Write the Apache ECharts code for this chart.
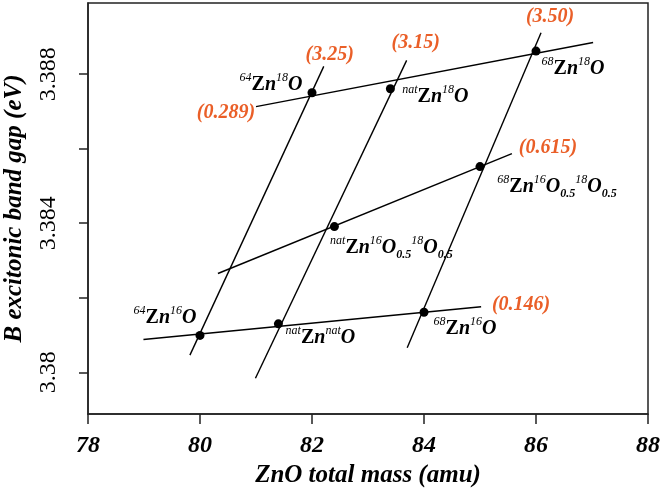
<!DOCTYPE html>
<html>
<head>
<meta charset="utf-8">
<script src="https://cdn.jsdelivr.net/npm/echarts@6/dist/echarts.min.js"></script>
<style>
  html, body { margin: 0; padding: 0; background: #fff; }
  #chart { width: 663px; height: 491px; }
</style>
</head>
<body>
<div id="chart"></div>
<script>
// measured points: ZnO total mass (amu) vs B exciton gap (eV)
var pointMass = [80, 81.4, 84, 82.4, 85, 82, 83.4, 86];
var pointGap = [3.38099, 3.3813, 3.38161, 3.38391, 3.38552, 3.3875, 3.38761, 3.38862];
var pointLabels = [
    '{sup|64}{z|Z}{n|n}{sup|16}{n|O}',
    '{sup|nat}{z|Z}{n|n}{sup|nat}{n|O}',
    '{sup|68}{z|Z}{n|n}{sup|16}{n|O}',
    '{sup|nat}{z|Z}{n|n}{sup|16}{n|O}{sub|0.5}{sup|18}{n|O}{sub|0.5}',
    '{sup|68}{z|Z}{n|n}{sup|16}{n|O}{sub|0.5}{sup|18}{n|O}{sub|0.5}',
    '{sup|64}{z|Z}{n|n}{sup|18}{n|O}',
    '{sup|nat}{z|Z}{n|n}{sup|18}{n|O}',
    '{sup|68}{z|Z}{n|n}{sup|18}{n|O}'
];

// fitted lines (start / end), slope in meV/amu
var lineX0 = [78.99, 80.32, 81.0, 79.82, 80.99, 83.70];
var lineY0 = [3.38088, 3.38265, 3.38713, 3.38046, 3.37984, 3.38066];
var lineX1 = [85.02, 85.57, 87.02, 82.21, 83.69, 86.09];
var lineY1 = [3.38176, 3.38587, 3.38885, 3.38821, 3.38837, 3.38911];
var slopeText = ['(0.146)', '(0.615)', '(0.289)', '(3.25)', '(3.15)', '(3.50)'];
var slopeAtStart = [false, false, true, false, false, false];

// y ticks
var yTicks = [3.380, 3.382, 3.384, 3.386, 3.388];
var yTickLabels = {'3.38': '3.38', '3.384': '3.384', '3.388': '3.388'};

// label placement (pixels)
var pointLabelOffset = [[-35, -18], [42, 14], [41, 17], [57, 21], [77, 20], [-41, -8], [45, 8], [37, 18]];
var slopeLabelOffset = [[40, -2], [36, -6], [-30, 6], [6, -12], [9, -18], [9, -16]];

var serif = 'Liberation Serif';
var orange = '#ea5f28';

var richStyle = {
    z: {fontFamily: serif, fontWeight: 'bold', fontSize: 20, lineHeight: 26, color: '#000'},
    n: {fontFamily: serif, fontWeight: 'bold', fontStyle: 'italic', fontSize: 20, lineHeight: 26, color: '#000'},
    sup: {fontFamily: serif, fontStyle: 'italic', fontSize: 12, lineHeight: 12, verticalAlign: 'top', color: '#000'},
    sub: {fontFamily: serif, fontStyle: 'italic', fontWeight: 'bold', fontSize: 12, lineHeight: 12, verticalAlign: 'bottom', color: '#000'}
};

var chart = echarts.init(document.getElementById('chart'));

var series = [];
for (var i = 0; i < lineX0.length; i++) {
    series.push({
        type: 'line',
        data: [[lineX0[i], lineY0[i]], [lineX1[i], lineY1[i]]],
        showSymbol: false,
        silent: true,
        lineStyle: {color: '#000', width: 1.4},
        z: 2
    });
}

var slopePts = [];
for (var i = 0; i < slopeText.length; i++) {
    slopePts.push({
        value: slopeAtStart[i] ? [lineX0[i], lineY0[i]] : [lineX1[i], lineY1[i]],
        label: {formatter: slopeText[i], offset: slopeLabelOffset[i]}
    });
}
series.push({
    type: 'scatter',
    data: slopePts,
    symbolSize: 0,
    silent: true,
    itemStyle: {color: orange, opacity: 1},
    label: {
        show: true, position: 'inside', opacity: 1,
        fontFamily: serif, fontWeight: 'bold', fontStyle: 'italic',
        fontSize: 20, color: orange,
        textBorderWidth: 0, textBorderColor: 'transparent'
    },
    z: 4
});

var pts = [];
for (var i = 0; i < pointMass.length; i++) {
    pts.push({
        value: [pointMass[i], pointGap[i]],
        label: {formatter: pointLabels[i], offset: pointLabelOffset[i]}
    });
}
series.push({
    type: 'scatter',
    data: pts,
    symbol: 'circle',
    symbolSize: 9,
    itemStyle: {color: '#000', opacity: 1},
    label: {
        show: true, position: 'inside', rich: richStyle, opacity: 1,
        color: '#000', textBorderWidth: 0, textBorderColor: 'transparent'
    },
    z: 5
});

var option = {
    animation: false,
    backgroundColor: '#fff',
    grid: {
        left: 88, right: 15, top: 3, bottom: 77,
        outerBoundsMode: 'none',
        show: true, borderColor: '#222', borderWidth: 1.5
    },
    xAxis: {
        type: 'value',
        min: 78, max: 88, interval: 2,
        name: 'ZnO total mass (amu)',
        nameLocation: 'middle',
        nameGap: 46,
        nameTextStyle: {fontFamily: serif, fontWeight: 'bold', fontStyle: 'italic', fontSize: 25, color: '#000'},
        axisLine: {onZero: false, lineStyle: {color: '#222', width: 1.5}},
        axisTick: {inside: false, length: 10, lineStyle: {color: '#222', width: 1.5}},
        axisLabel: {margin: 20, fontFamily: serif, fontWeight: 'bold', fontStyle: 'italic', fontSize: 24, color: '#000'},
        splitLine: {show: false}
    },
    yAxis: {
        type: 'value',
        min: 3.37888, max: 3.38991,
        name: 'B excitonic band gap (eV)',
        nameLocation: 'middle',
        nameGap: 61,
        nameRotate: 90,
        nameTextStyle: {fontFamily: serif, fontWeight: 'bold', fontStyle: 'italic', fontSize: 25, color: '#000'},
        axisLine: {onZero: false, lineStyle: {color: '#222', width: 1.5}},
        axisTick: {inside: false, length: 9, customValues: yTicks, lineStyle: {color: '#222', width: 1.5}},
        axisLabel: {
            rotate: 90, margin: 27,
            customValues: [3.380, 3.384, 3.388],
            formatter: function (v) {
                var k = String(+v.toFixed(3));
                return yTickLabels[k] || '';
            },
            fontFamily: serif, fontSize: 24, color: '#000'
        },
        splitLine: {show: false}
    },
    series: series
};

chart.setOption(option);
</script>
</body>
</html>
